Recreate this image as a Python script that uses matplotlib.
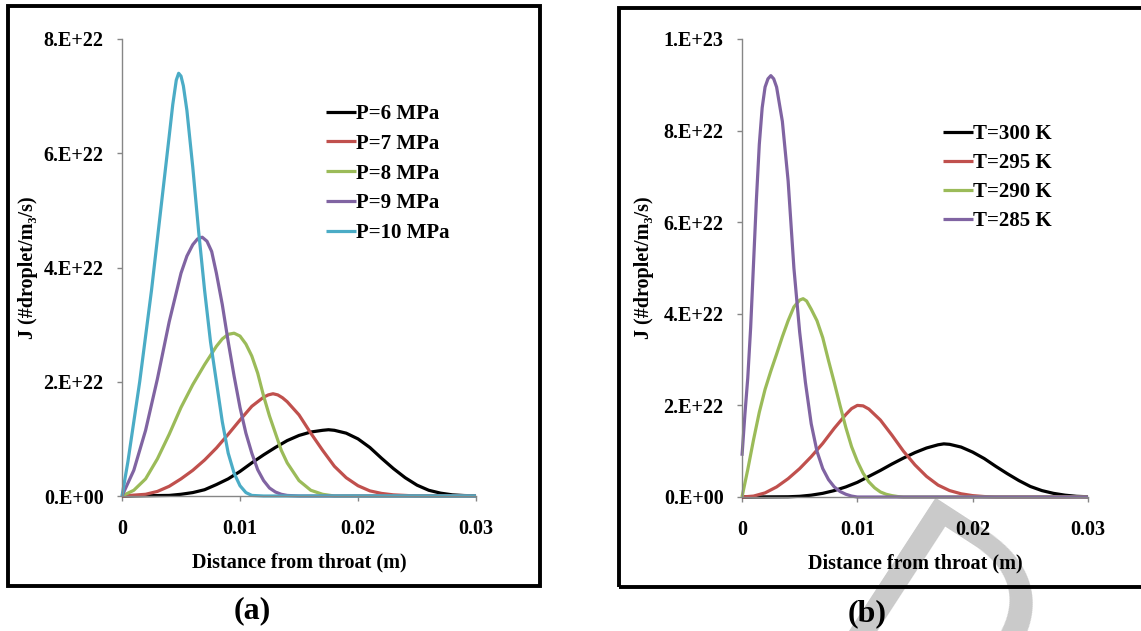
import numpy as np
import matplotlib
matplotlib.use("Agg")
import matplotlib.pyplot as plt
from matplotlib.patches import Rectangle

# ---------------- data (J in units of 1E22 droplet/m3/s) ----------------
# (a) effect of inlet pressure
p6_x = [0, 0.004, 0.005, 0.006, 0.007, 0.008, 0.009, 0.010, 0.011, 0.012, 0.013, 0.014,
        0.015, 0.016, 0.017, 0.0175, 0.018, 0.019, 0.020, 0.021, 0.022, 0.023, 0.024,
        0.025, 0.026, 0.027, 0.028, 0.029, 0.030]
p6_y = [0, 0.01, 0.03, 0.06, 0.11, 0.20, 0.30, 0.43, 0.58, 0.72, 0.85, 0.97,
        1.06, 1.12, 1.15, 1.16, 1.15, 1.10, 1.00, 0.85, 0.66, 0.48, 0.32,
        0.19, 0.10, 0.05, 0.02, 0.008, 0.003]

p7_x = [0, 0.002, 0.003, 0.004, 0.005, 0.006, 0.007, 0.008, 0.009, 0.010, 0.011, 0.012,
        0.0124, 0.0128, 0.0132, 0.0136, 0.014, 0.015, 0.016, 0.017, 0.018, 0.019, 0.020,
        0.021, 0.022, 0.023, 0.024, 0.025, 0.030]
p7_y = [0, 0.03, 0.08, 0.17, 0.30, 0.45, 0.63, 0.84, 1.08, 1.33, 1.57, 1.73,
        1.77, 1.79, 1.77, 1.72, 1.65, 1.42, 1.10, 0.80, 0.52, 0.32, 0.18,
        0.09, 0.045, 0.02, 0.01, 0, 0]

p8_x = [0, 0.001, 0.002, 0.003, 0.004, 0.005, 0.006, 0.007, 0.008, 0.0085, 0.009, 0.0095,
        0.010, 0.0105, 0.011, 0.0115, 0.012, 0.0125, 0.013, 0.0135, 0.014, 0.015, 0.016,
        0.017, 0.018, 0.030]
p8_y = [0, 0.10, 0.30, 0.65, 1.08, 1.55, 1.95, 2.30, 2.62, 2.75, 2.83, 2.85,
        2.80, 2.66, 2.45, 2.15, 1.75, 1.40, 1.10, 0.80, 0.58, 0.27, 0.10,
        0.03, 0, 0]

p9_x = [0, 0.001, 0.002, 0.003, 0.004, 0.005, 0.0055, 0.006, 0.0064, 0.0068, 0.0072,
        0.0076, 0.008, 0.0085, 0.009, 0.0095, 0.010, 0.0105, 0.011, 0.0115, 0.012,
        0.0125, 0.013, 0.0135, 0.014, 0.015, 0.030]
p9_y = [0, 0.45, 1.15, 2.05, 3.05, 3.90, 4.20, 4.40, 4.50, 4.53, 4.46,
        4.28, 3.90, 3.35, 2.70, 2.10, 1.55, 1.10, 0.75, 0.46, 0.27,
        0.14, 0.07, 0.03, 0.01, 0, 0]

p10_x = [0, 0.0005, 0.001, 0.0015, 0.002, 0.0025, 0.003, 0.0035, 0.004, 0.0043, 0.0046,
         0.0048, 0.005, 0.0052, 0.0055, 0.006, 0.0065, 0.007, 0.0075, 0.008, 0.0085,
         0.009, 0.0095, 0.010, 0.0105, 0.011, 0.012, 0.030]
p10_y = [0, 0.60, 1.30, 2.00, 2.80, 3.60, 4.50, 5.40, 6.30, 6.85, 7.28,
         7.40, 7.35, 7.18, 6.75, 5.75, 4.62, 3.60, 2.70, 2.00, 1.30,
         0.75, 0.40, 0.18, 0.06, 0.01, 0, 0]

# (b) effect of inlet temperature
t300_x = [0, 0.004, 0.005, 0.006, 0.007, 0.008, 0.009, 0.010, 0.011, 0.012, 0.013, 0.014,
          0.015, 0.016, 0.017, 0.0175, 0.018, 0.019, 0.020, 0.021, 0.022, 0.023, 0.024,
          0.025, 0.026, 0.027, 0.028, 0.029, 0.030]
t300_y = [0, 0.005, 0.015, 0.04, 0.08, 0.14, 0.22, 0.32, 0.45, 0.58, 0.72, 0.85,
          0.97, 1.07, 1.14, 1.16, 1.15, 1.09, 0.98, 0.84, 0.67, 0.51, 0.36,
          0.23, 0.14, 0.08, 0.04, 0.015, 0.005]

t295_x = [0, 0.001, 0.002, 0.003, 0.004, 0.005, 0.006, 0.007, 0.008, 0.009, 0.0095, 0.010,
          0.0105, 0.011, 0.012, 0.013, 0.014, 0.015, 0.016, 0.017, 0.018, 0.019, 0.020,
          0.021, 0.022, 0.030]
t295_y = [0, 0.02, 0.09, 0.22, 0.40, 0.62, 0.88, 1.17, 1.50, 1.80, 1.93, 2.00,
          1.99, 1.92, 1.68, 1.35, 1.00, 0.70, 0.45, 0.26, 0.14, 0.07, 0.03,
          0.01, 0, 0]

t290_x = [0, 0.0005, 0.001, 0.0015, 0.002, 0.0025, 0.003, 0.0035, 0.004, 0.0045, 0.005,
          0.0053, 0.0056, 0.006, 0.0065, 0.007, 0.0075, 0.008, 0.0085, 0.009, 0.0095,
          0.010, 0.0105, 0.011, 0.0115, 0.012, 0.0125, 0.013, 0.0135, 0.014, 0.030]
t290_y = [0, 0.60, 1.25, 1.85, 2.35, 2.75, 3.12, 3.50, 3.85, 4.15, 4.30,
          4.33, 4.28, 4.10, 3.85, 3.48, 2.98, 2.50, 2.00, 1.52, 1.10,
          0.78, 0.52, 0.33, 0.20, 0.11, 0.06, 0.03, 0.01, 0, 0]

t285_x = [0, 0.00025, 0.0005, 0.00075, 0.001, 0.00125, 0.0015, 0.00175, 0.002, 0.00225,
          0.0025, 0.00275, 0.003, 0.0035, 0.004, 0.0045, 0.005, 0.0055, 0.006, 0.0065,
          0.007, 0.0075, 0.008, 0.0085, 0.009, 0.0095, 0.010, 0.030]
t285_y = [0.90, 1.80, 2.60, 3.70, 5.10, 6.50, 7.70, 8.50, 8.95, 9.13,
          9.20, 9.13, 8.95, 8.20, 6.90, 5.00, 3.60, 2.50, 1.60, 1.00,
          0.62, 0.38, 0.22, 0.12, 0.06, 0.02, 0, 0]

labels_a = ["P=6 MPa", "P=7 MPa", "P=8 MPa", "P=9 MPa", "P=10 MPa"]
labels_b = ["T=300 K", "T=295 K", "T=290 K", "T=285 K"]

x_ticks = [0, 0.01, 0.02, 0.03]
x_ticklabels = ["0", "0.01", "0.02", "0.03"]
ya_ticks = [0, 2e22, 4e22, 6e22, 8e22]
ya_ticklabels = ["0.E+00", "2.E+22", "4.E+22", "6.E+22", "8.E+22"]
yb_ticks = [0, 2e22, 4e22, 6e22, 8e22, 1e23]
yb_ticklabels = ["0.E+00", "2.E+22", "4.E+22", "6.E+22", "8.E+22", "1.E+23"]

colors_a = ["#000000", "#C0504D", "#9BBB59", "#8064A2", "#4BACC6"]
colors_b = ["#000000", "#C0504D", "#9BBB59", "#8064A2"]

# ---------------- styling ----------------
plt.rcParams["font.family"] = ["Liberation Serif", "DejaVu Serif"]
plt.rcParams["font.weight"] = "bold"
FS = 14.5
AXIS_GRAY = "#868686"
W, H = 1141, 631

fig = plt.figure(figsize=(W / 100, H / 100), dpi=100)
fig.patch.set_facecolor("white")


def fx(px):
    return px / W


def fy(py):
    return 1 - py / H


def make_axes(left, right, top, bottom):
    ax = fig.add_axes([fx(left), fy(bottom), fx(right) - fx(left), fy(top) - fy(bottom)])
    ax.set_facecolor("none")
    for s in ("top", "right"):
        ax.spines[s].set_visible(False)
    for s in ("left", "bottom"):
        ax.spines[s].set_color(AXIS_GRAY)
        ax.spines[s].set_linewidth(1.0)
    ax.tick_params(axis="both", direction="out", length=3.8, width=1.0,
                   color=AXIS_GRAY, labelsize=FS)
    ax.tick_params(axis="y", pad=9.5)
    ax.tick_params(axis="x", pad=13)
    ax.set_xlim(0, 0.03)
    ax.set_xticks(x_ticks)
    ax.set_xticklabels(x_ticklabels, fontweight="bold")
    return ax


def plot_series(ax, xs, ys, labels, colors):
    for x, y, lab, c in zip(xs, ys, labels, colors):
        ax.plot(x, np.asarray(y) * 1e22, color=c, lw=2.3, label=lab,
                clip_on=False, solid_joinstyle="round", solid_capstyle="butt")


# ---- panel (a)
ax_a = make_axes(122, 476, 39, 496)
ax_a.set_ylim(0, 8e22)
ax_a.set_yticks(ya_ticks)
ax_a.set_yticklabels(ya_ticklabels, fontweight="bold")
plot_series(ax_a, [p6_x, p7_x, p8_x, p9_x, p10_x],
            [p6_y, p7_y, p8_y, p9_y, p10_y], labels_a, colors_a)
ax_a.legend(loc="upper left", bbox_to_anchor=(fx(326), fy(104)),
            bbox_transform=fig.transFigure, frameon=False, borderpad=0,
            borderaxespad=0, handlelength=1.45, handletextpad=0.0,
            labelspacing=0.47, prop={"size": FS + 0.5, "weight": "bold"})

# ---- panel (b)
ax_b = make_axes(742, 1088, 39, 497)
ax_b.set_ylim(0, 1e23)
ax_b.set_yticks(yb_ticks)
ax_b.set_yticklabels(yb_ticklabels, fontweight="bold")
plot_series(ax_b, [t300_x, t295_x, t290_x, t285_x],
            [t300_y, t295_y, t290_y, t285_y], labels_b, colors_b)
ax_b.legend(loc="upper left", bbox_to_anchor=(fx(943), fy(124)),
            bbox_transform=fig.transFigure, frameon=False, borderpad=0,
            borderaxespad=0, handlelength=1.45, handletextpad=0.0,
            labelspacing=0.43, prop={"size": FS + 0.5, "weight": "bold"})

# ---- axis titles
ylab = "J (#droplet/m\u2083/s)"
xlab = "Distance from throat (m)"
fig.text(fx(28), fy(268), ylab, rotation=90, ha="center", va="center",
         fontsize=FS, fontweight="bold")
fig.text(fx(644), fy(268), ylab, rotation=90, ha="center", va="center",
         fontsize=FS, fontweight="bold")
fig.text(fx(299), fy(562), xlab, ha="center", va="center", fontsize=FS, fontweight="bold")
fig.text(fx(915), fy(563), xlab, ha="center", va="center", fontsize=FS, fontweight="bold")

# ---- panel frames
for (l, t, r, b) in [(8, 6, 540, 586), (619, 8, 1160, 587)]:
    fig.patches.append(Rectangle((fx(l), fy(b)), fx(r) - fx(l), fy(t) - fy(b),
                                 transform=fig.transFigure, fill=False,
                                 edgecolor="black", linewidth=2.8, zorder=5,
                                 clip_on=False))

# ---- panel captions
fig.text(fx(252), fy(611), "(a)", ha="center", va="center", fontsize=23, fontweight="bold")
fig.text(fx(867), fy(614), "(b)", ha="center", va="center", fontsize=23, fontweight="bold")

# ---- faint diagonal watermark letter behind the artwork
fig.text(fx(932), fy(640), "D", rotation=-33, ha="center", va="center",
         fontsize=185, color="#cacaca", family="Liberation Sans",
         fontweight="normal", zorder=-10)

fig.savefig("out.png", dpi=100, facecolor="white")
